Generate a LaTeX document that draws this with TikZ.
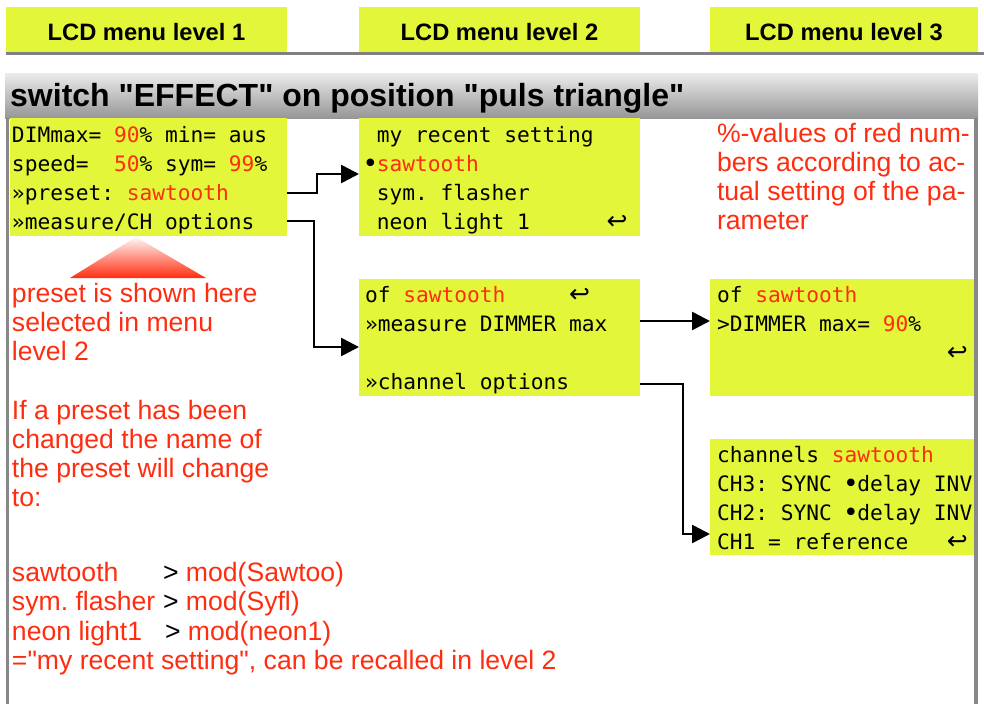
\documentclass[tikz,border=0pt]{standalone}
\usepackage{fontspec}
\setmainfont{Liberation Sans}
\newfontfamily\plainsans{Liberation Sans}
\newfontfamily\lcdfont{DejaVu Sans Mono}
\newfontfamily\symfont{DejaVu Sans}
\usetikzlibrary{arrows.meta}

\definecolor{lcd}{RGB}{227,246,58}
\definecolor{note}{RGB}{255,45,15}
\definecolor{framegray}{RGB}{136,136,136}
\definecolor{rulegray}{RGB}{128,128,128}
\definecolor{bartop}{RGB}{236,236,236}
\definecolor{barbot}{RGB}{150,150,150}

% width of one character cell of the LCD font
\newlength\lcdcw
\newcommand\hot[1]{\textcolor{note}{#1}}
\newcommand\retkey{{\symfont\fontsize{25}{29}\selectfont ↩}}
\newcommand\lcddot{\makebox[\lcdcw][c]{\raisebox{-1.5pt}{\fontsize{26}{29}\selectfont •}}}
\newcommand\lcdskip[1]{\hspace*{#1\lcdcw}}

\begin{document}
\frenchspacing
\settowidth\lcdcw{\lcdfont\fontsize{21.2}{29}\selectfont 0}
\begin{tikzpicture}[x=1pt,y=-1pt,
  lcdbox/.style={fill=lcd, draw=none, inner sep=0pt, outer sep=0pt, anchor=north west},
  header/.style={fill=lcd, draw=none, inner sep=0pt, outer sep=0pt, anchor=north west,
    minimum height=45pt, text height=21pt, text depth=0pt,
    font=\plainsans\fontsize{23.7}{28}\selectfont\bfseries},
  lcdtext/.style={anchor=base west, inner sep=0pt, outer sep=0pt,
    font=\lcdfont\fontsize{21.2}{29}\selectfont\frenchspacing},
  notetext/.style={anchor=base west, inner sep=0pt, outer sep=0pt, text=note,
    font=\plainsans\fontsize{26.6}{29}\selectfont\frenchspacing},
  link/.style={draw=black, line width=2.6pt, -{Triangle[length=18pt,width=18pt]}}
]
\useasboundingbox (0,0) rectangle (984,704);
\fill[white] (0,0) rectangle (984,704);

% column headers
\node[header, minimum width=281pt] (h1) at (6,7) {LCD menu level 1};
\node[header, minimum width=281pt] (h2) at (359,7) {LCD menu level 2};
\node[header, minimum width=268pt] (h3) at (710,7) {LCD menu level 3};
\draw[rulegray, line width=3pt] (6,53.5) -- (984,53.5);

% title bar
\node[inner sep=0pt, outer sep=0pt, anchor=north west, minimum width=973pt,
  minimum height=45pt, top color=bartop, bottom color=barbot] (tbar) at (5,73) {};
\node[anchor=base west, inner sep=0pt, font=\plainsans\fontsize{32}{34}\selectfont\bfseries]
  (title) at (10,106) {switch "EFFECT" on position "puls triangle"};

% side frame
\fill[framegray] (6,118) rectangle (9,704);
\fill[framegray] (974,118) rectangle (978,704);

% LCD screens
\node[lcdbox, minimum width=277pt, minimum height=118pt] (b1) at (10,118) {};
\node[lcdbox, minimum width=281pt, minimum height=118pt] (b2) at (359,118) {};
\node[lcdbox, minimum width=281pt, minimum height=117pt] (b3) at (359,279) {};
\node[lcdbox, minimum width=264pt, minimum height=117pt] (b4) at (710,279) {};
\node[lcdbox, minimum width=264pt, minimum height=116pt] (b5) at (710,439) {};

% level 1 screen
\node[lcdtext] (b1a) at (12,142) {DIMmax= \hot{90}\% min= aus};
\node[lcdtext] (b1b) at (12,171) {speed=\ \ \hot{50}\% sym= \hot{99}\%};
\node[lcdtext] (b1c) at (12,200) {»preset: \hot{sawtooth}};
\node[lcdtext] (b1d) at (12,229) {»measure/CH options};

% level 2 preset list
\node[lcdtext] (b2a) at (364,142) {\lcdskip{1}my recent setting};
\node[lcdtext] (b2b) at (364,171) {\lcddot\hot{sawtooth}};
\node[lcdtext] (b2c) at (364,200) {\lcdskip{1}sym. flasher};
\node[lcdtext] (b2d) at (364,229) {\lcdskip{1}neon light 1\lcdskip{6}\retkey};

% level 2 options
\node[lcdtext] (b3a) at (365,302) {of \hot{sawtooth}\lcdskip{5}\retkey};
\node[lcdtext] (b3b) at (365,331) {»measure DIMMER max};
\node[lcdtext] (b3c) at (365,389) {»channel options};

% level 3 dimmer
\node[lcdtext] (b4a) at (717,302) {of \hot{sawtooth}};
\node[lcdtext] (b4b) at (717,331) {>DIMMER max= \hot{90}\%};
\node[lcdtext] (b4c) at (717,360) {\lcdskip{18}\retkey};

% level 3 channels
\node[lcdtext] (b5a) at (717,462) {channels \hot{sawtooth}};
\node[lcdtext] (b5b) at (717,491) {CH3: SYNC \lcddot delay INV};
\node[lcdtext] (b5c) at (717,520) {CH2: SYNC \lcddot delay INV};
\node[lcdtext] (b5d) at (717,549) {CH1 = reference\lcdskip{3}\retkey};

% notes
\node[notetext] (n1) at (717,142) {\%-values of red num-};
\node[notetext] (n2) at (717,171) {bers according to ac-};
\node[notetext] (n3) at (717,200) {tual setting of the pa-};
\node[notetext] (n4) at (717,229) {rameter};

\shade[top color=note!4!white, bottom color=note] (136,237) -- (206,278) -- (70,278) -- cycle;

\node[notetext] (p1) at (12,302) {preset is shown here};
\node[notetext] (p2) at (12,331) {selected in menu};
\node[notetext] (p3) at (12,360) {level 2};

\node[notetext] (q1) at (12,419) {If a preset has been};
\node[notetext] (q2) at (12,448) {changed the name of};
\node[notetext] (q3) at (12,477) {the preset will change};
\node[notetext] (q4) at (12,506) {to:};

\node[notetext] (r1) at (12,581) {sawtooth};
\node[notetext] (r1m) at (163,581) {\textcolor{black}{>} mod(Sawtoo)};
\node[notetext] (r2) at (12,610.5) {sym. flasher};
\node[notetext] (r2m) at (163,610.5) {\textcolor{black}{>} mod(Syfl)};
\node[notetext] (r3) at (12,640) {neon light1};
\node[notetext] (r3m) at (165,640) {\textcolor{black}{>} mod(neon1)};
\node[notetext] (r4) at (12,669.5) {="my recent setting", can be recalled in level 2};

% connectors
\draw[link] (b1.east |- 0,193) -- ++(30,0) |- (b2.west |- 0,174);
\draw[link] (b1.east |- 0,221) -- ++(27,0) |- (b3.west |- 0,347);
\draw[link] (b3.east |- 0,321) -- (b4.west |- 0,321);
\draw[link] (b3.east |- 0,384) -- ++(43,0) |- (b5.west |- 0,534);
\end{tikzpicture}
\end{document}
